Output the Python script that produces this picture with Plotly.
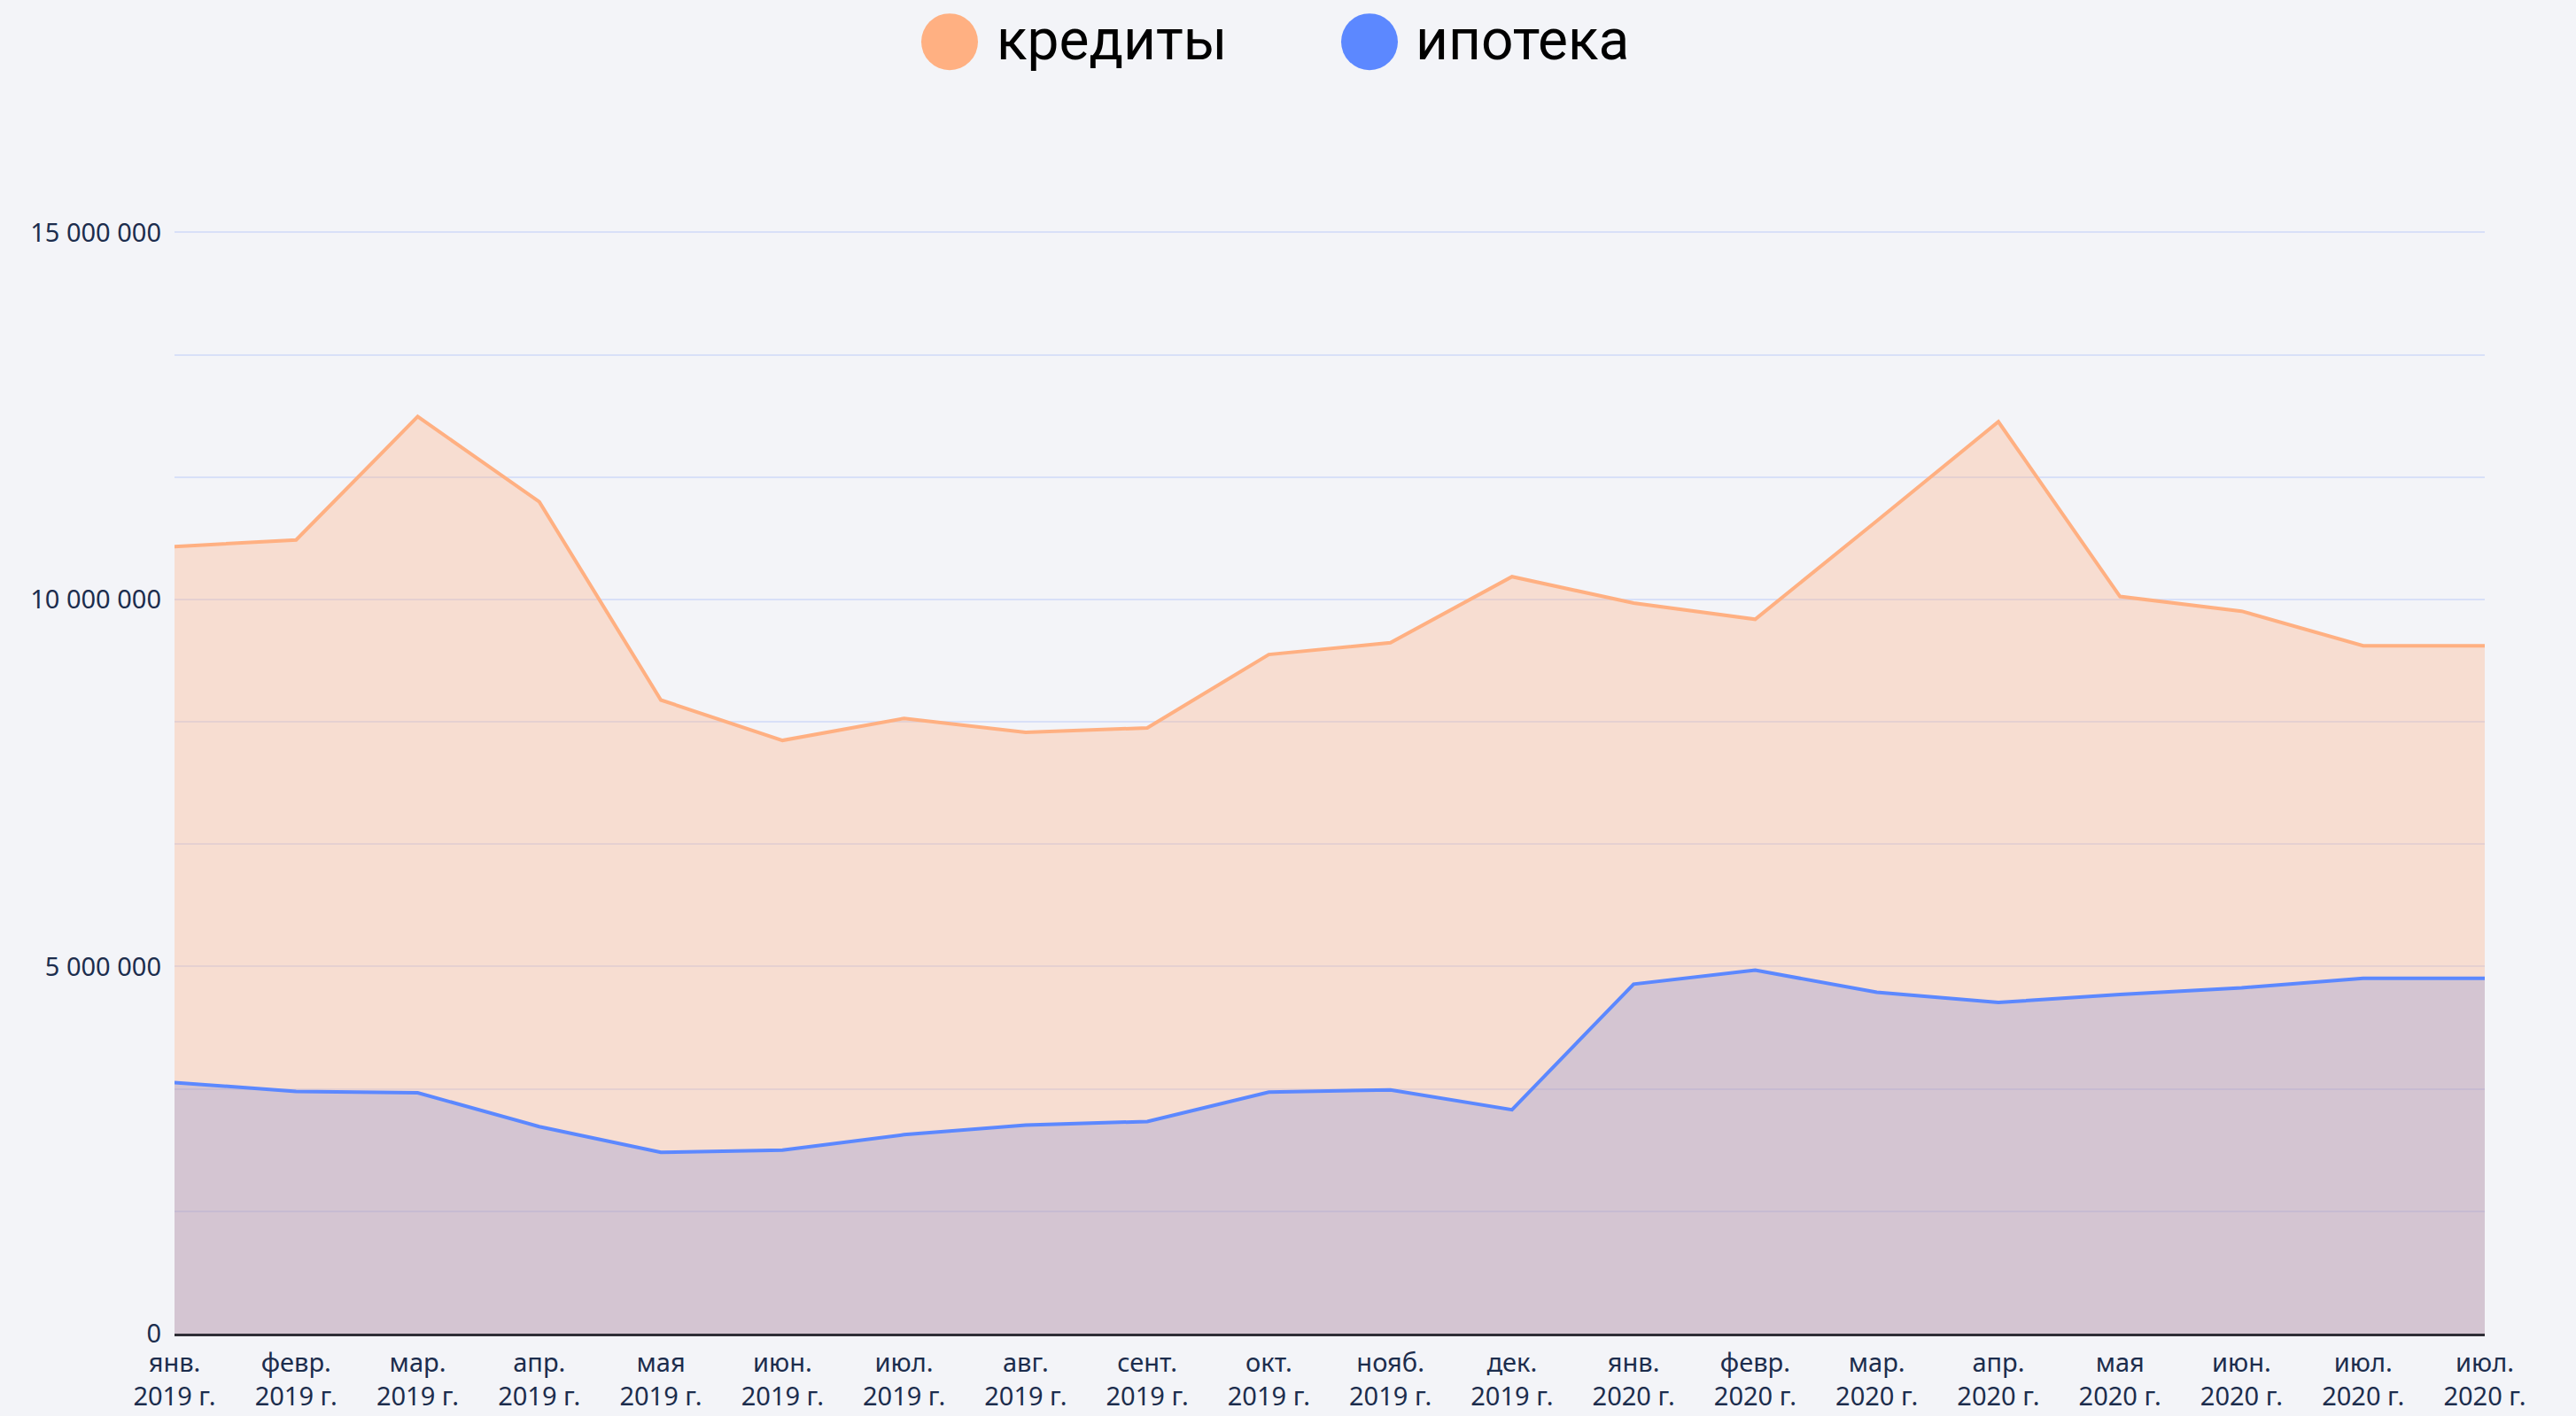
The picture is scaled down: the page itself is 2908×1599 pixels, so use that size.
import plotly.graph_objects as go

months = ["янв.", "февр.", "мар.", "апр.", "мая", "июн.", "июл.", "авг.", "сент.", "окт.", "нояб.", "дек.",
          "янв.", "февр.", "мар.", "апр.", "мая", "июн.", "июл.", "июл."]
years = ["2019 г."] * 12 + ["2020 г."] * 8
tick_labels = [f"{m}<br>{y}" for m, y in zip(months, years)]

credits = [10.72e6, 10.81e6, 12.49e6, 11.33e6, 8.63e6, 8.08e6, 8.38e6, 8.19e6, 8.25e6, 9.25e6,
           9.41e6, 10.31e6, 9.95e6, 9.73e6, 11.07e6, 12.42e6, 10.04e6, 9.84e6, 9.37e6, 9.37e6]
mortgage = [3.42e6, 3.30e6, 3.28e6, 2.82e6, 2.47e6, 2.50e6, 2.71e6, 2.84e6, 2.89e6, 3.29e6,
            3.32e6, 3.05e6, 4.76e6, 4.95e6, 4.65e6, 4.51e6, 4.62e6, 4.71e6, 4.84e6, 4.84e6]

y_tickvals = [i * 5e6 / 3 for i in range(10)]
y_ticktext = ["0", "", "", "5 000 000", "", "", "10 000 000", "", "", "15 000 000"]

series_names = ["кредиты", "ипотека"]
ORANGE = "rgb(255,176,130)"
BLUE = "rgb(92,136,255)"
BG = "#f3f4f8"

x = list(range(len(months)))

fig = go.Figure()
fig.add_trace(go.Scatter(x=x, y=credits, name=series_names[0], mode="lines",
                         line=dict(color=ORANGE, width=4),
                         fill="tozeroy", fillcolor="rgba(255,176,130,0.33)", showlegend=False))
fig.add_trace(go.Scatter(x=x, y=mortgage, name=series_names[1], mode="lines",
                         line=dict(color=BLUE, width=4),
                         fill="tozeroy", fillcolor="rgba(117,133,213,0.27)", showlegend=False))

# page body adds an 8px offset; compensate so the plot lands where the reference has it
OFF = 8
W, H = 2908, 1599
L, R, T, B = 197 - OFF, 103 + OFF, 138 - OFF, 91 + OFF
pw = W - L - R
ph = H - T - B

def px_x(p):
    return (p - OFF - L) / pw

def px_y(p):
    return (H - B - (p - OFF)) / ph

# custom legend (large circle markers)
legend_items = [(series_names[0], ORANGE, 1072, 1123), (series_names[1], BLUE, 1546, 1596)]
shapes = []
annotations = []
for name, col, cx, tx in legend_items:
    shapes.append(dict(type="circle", xref="paper", yref="paper", xsizemode="pixel", ysizemode="pixel",
                       xanchor=px_x(cx), yanchor=px_y(47), x0=-32, x1=32, y0=-32, y1=32,
                       fillcolor=col, line=dict(width=0)))
    annotations.append(dict(text=name, xref="paper", yref="paper", x=px_x(tx), y=px_y(45),
                            xanchor="left", yanchor="middle", showarrow=False,
                            font=dict(family="Roboto", size=64, color="#000000")))

fig.update_layout(
    width=W, height=H,
    margin=dict(l=L, r=R, t=T, b=B, pad=0),
    paper_bgcolor=BG, plot_bgcolor=BG,
    showlegend=False,
    shapes=shapes, annotations=annotations,
    font=dict(family="Noto Sans", color="#1c2d4d"),
)
fig.update_xaxes(range=[0, len(months) - 1], tickmode="array", tickvals=x, ticktext=tick_labels,
                 showgrid=False, zeroline=False, showline=True, linecolor="#2e2e36", linewidth=3,
                 ticks="", ticklabelstandoff=5, tickfont=dict(size=29, color="#1c2d4d"), tickangle=0)
fig.update_yaxes(range=[0, 16.5e6], tickmode="array", tickvals=y_tickvals, ticktext=y_ticktext,
                 showgrid=True, gridcolor="#d8e0f8", gridwidth=2, zeroline=False, showline=False,
                 ticks="", ticklabelstandoff=14, tickfont=dict(size=29, color="#1c2d4d"))

fig.write_html("out.html", config={"displayModeBar": False},
               post_script="document.body.style.background='%s';" % BG)
